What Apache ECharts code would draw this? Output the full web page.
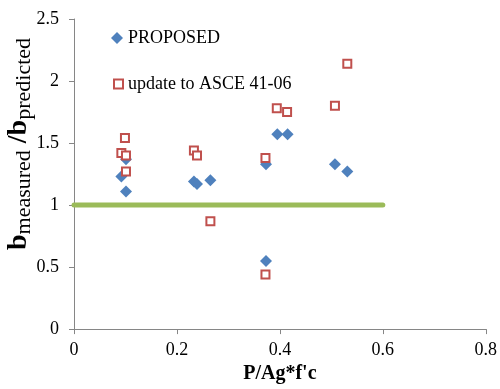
<!DOCTYPE html>
<html>
<head>
<meta charset="utf-8">
<script src="https://cdn.jsdelivr.net/npm/echarts@6/dist/echarts.min.js"></script>
<style>html,body{margin:0;padding:0;background:#fff}#c{width:500px;height:389px}</style>
</head>
<body>
<div id="c"></div>
<script>
var proposedX = [0.092, 0.101, 0.101, 0.233, 0.239, 0.265, 0.373, 0.395, 0.415, 0.507, 0.531, 0.373];
var proposedY = [1.23, 1.37, 1.11, 1.19, 1.17, 1.20, 1.33, 1.57, 1.57, 1.33, 1.27, 0.55];
var asceX = [0.531, 0.394, 0.414, 0.507, 0.099, 0.092, 0.101, 0.101, 0.233, 0.239, 0.265, 0.372, 0.372];
var asceY = [2.14, 1.78, 1.75, 1.80, 1.54, 1.42, 1.40, 1.27, 1.44, 1.40, 0.87, 1.38, 0.44];
var refLineX = [0, 0.6];
var refLineY = [1, 1];
var xTicks = [0, 0.2, 0.4, 0.6, 0.8];
var yTicks = [0, 0.5, 1, 1.5, 2, 2.5];

function zip(a, b) { return a.map(function (v, i) { return [v, b[i]]; }); }

var serif = '"Liberation Serif", "DejaVu Serif", serif';
var legendText = { fontFamily: serif, fontSize: 18, color: '#000' };
var chart = echarts.init(document.getElementById('c'));
chart.setOption({
  animation: false,
  backgroundColor: '#fff',
  grid: { left: 74, right: 12, top: 19, bottom: 58.5, containLabel: false },
  xAxis: {
    type: 'value', min: xTicks[0], max: xTicks[xTicks.length - 1], interval: 0.2,
    name: 'P/Ag*f\'c', nameLocation: 'middle', nameGap: 32,
    nameTextStyle: { fontFamily: serif, fontSize: 20, fontWeight: 'bold', color: '#000' },
    axisLine: { lineStyle: { color: '#868686', width: 1 } },
    axisTick: { show: true, inside: false, length: 5, lineStyle: { color: '#868686' } },
    axisLabel: { fontFamily: serif, fontSize: 18, color: '#000', margin: 12 },
    splitLine: { show: false }
  },
  yAxis: {
    type: 'value', min: yTicks[0], max: yTicks[yTicks.length - 1], interval: 0.5,
    axisLine: { show: true, lineStyle: { color: '#868686', width: 1 } },
    axisTick: { show: true, inside: false, length: 5, lineStyle: { color: '#868686' } },
    axisLabel: { fontFamily: serif, fontSize: 18, color: '#000', margin: 15 },
    splitLine: { show: false }
  },
  legend: [{
    orient: 'vertical', left: 111, top: 29, padding: 0,
    itemWidth: 12, itemHeight: 12, textStyle: legendText,
    data: [{ name: 'PROPOSED', icon: 'diamond' }]
  }, {
    orient: 'vertical', left: 113, top: 75, padding: 0,
    itemWidth: 9, itemHeight: 9, textStyle: legendText,
    data: [{ name: 'update to ASCE 41-06', icon: 'rect' }]
  }],
  graphic: [{
    type: 'text', x: 20, y: 144, rotation: Math.PI / 2,
    style: {
      text: '{b|b}{s|measured}{b| /b}{s|predicted}',
      align: 'center', verticalAlign: 'middle',
      rich: {
        b: { fontFamily: serif, fontSize: 28, fontWeight: 'bold', fill: '#000', lineHeight: 30, verticalAlign: 'top' },
        s: { fontFamily: serif, fontSize: 22, fill: '#000', lineHeight: 24, padding: [12, 0, 0, 0], verticalAlign: 'bottom' }
      }
    }
  }],
  series: [
    {
      type: 'line', data: zip(refLineX, refLineY), symbol: 'none', silent: true,
      lineStyle: { color: '#9BBB59', width: 5, cap: 'round' }, z: 1
    },
    {
      name: 'PROPOSED', type: 'scatter', data: zip(proposedX, proposedY),
      symbol: 'diamond', symbolSize: 12, itemStyle: { color: '#4F81BD', opacity: 1 }, z: 2
    },
    {
      name: 'update to ASCE 41-06', type: 'scatter', data: zip(asceX, asceY),
      symbol: 'rect', symbolSize: 8, itemStyle: { color: '#fff', borderColor: '#C0504D', borderWidth: 2, opacity: 1 }, z: 3
    }
  ]
});
</script>
</body>
</html>
